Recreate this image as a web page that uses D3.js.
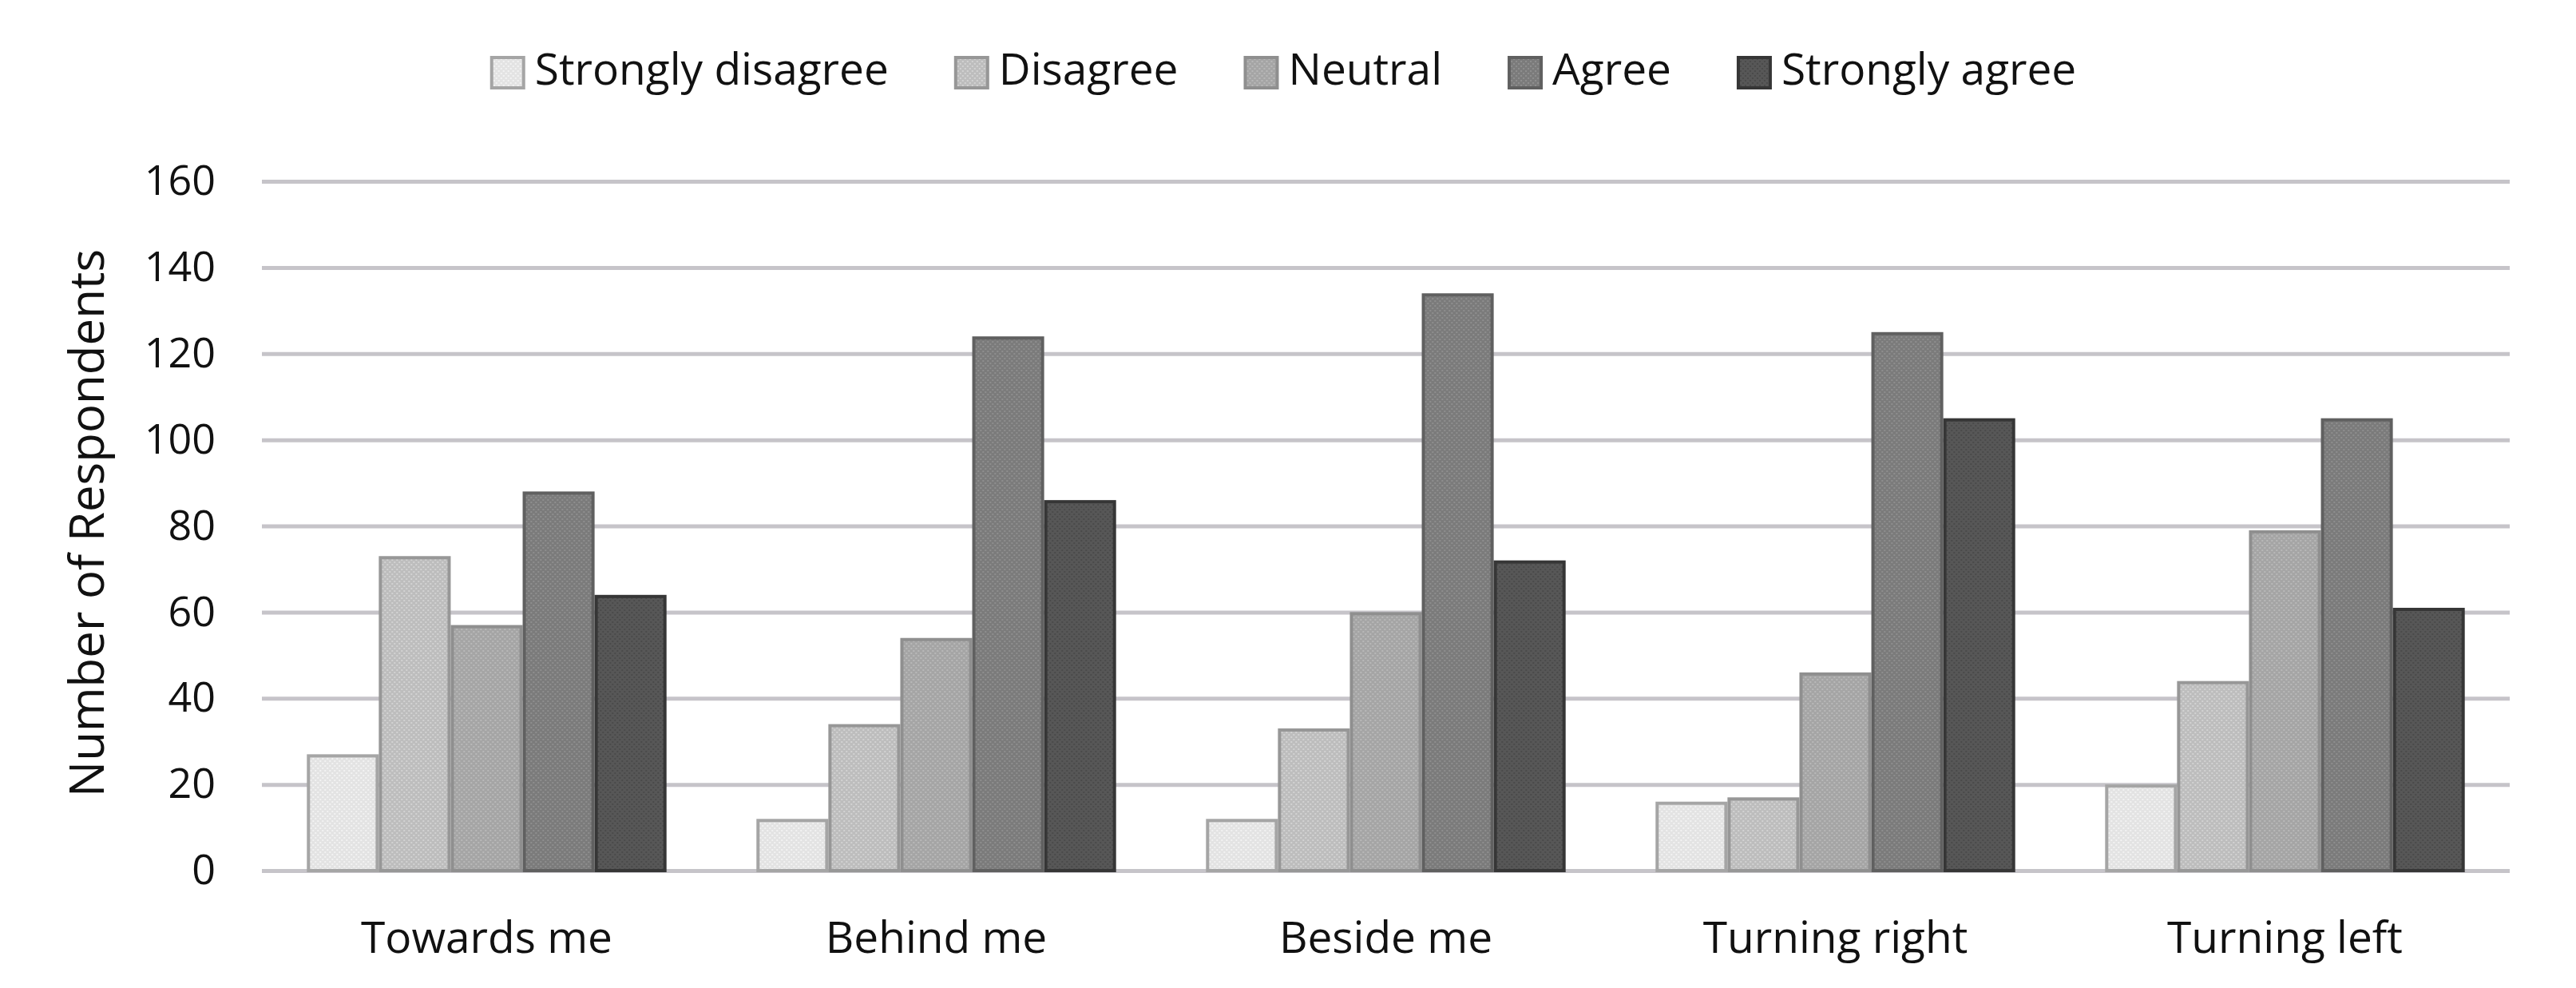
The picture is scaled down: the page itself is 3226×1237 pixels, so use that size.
<!DOCTYPE html>
<html>
<head>
<meta charset="utf-8">
<script src="https://cdn.jsdelivr.net/npm/d3@7"></script>
<style>
  html, body { margin: 0; padding: 0; background: #fff; }
  svg { display: block; }
  text { font-family: "Open Sans", "Noto Sans", sans-serif; fill: #111; }
</style>
</head>
<body>
<svg id="chart" width="3226" height="1237"></svg>
<script>
// ---- data ----
const categories = ["Towards me", "Behind me", "Beside me", "Turning right", "Turning left"];
const seriesNames = ["Strongly disagree", "Disagree", "Neutral", "Agree", "Strongly agree"];
const stronglyDisagree = [27, 12, 12, 16, 20];
const disagree         = [73, 34, 33, 17, 44];
const neutral          = [57, 54, 60, 46, 79];
const agree            = [88, 124, 134, 125, 105];
const stronglyAgree    = [64, 86, 72, 105, 61];
const yTicks = [0, 20, 40, 60, 80, 100, 120, 140, 160];
const yTitle = "Number of Respondents";

const seriesValues = [stronglyDisagree, disagree, neutral, agree, stronglyAgree];
const fills   = ["#e3e3e3", "#bdbdbd", "#a5a5a5", "#7b7b7b", "#575757"];
const dots    = ["#f2f2f2", "#d2d2d2", "#b8b8b8", "#8e8e8e", "#4a4a4a"];
const strokes = ["#a5a5a5", "#979797", "#8f8f8f", "#606060", "#363636"];

// ---- layout ----
const plot = { left: 328, right: 3143, top: 227, bottom: 1090 };

const svg = d3.select("#chart");
const defs = svg.append("defs");
seriesNames.forEach((s, i) => {
  const p = defs.append("pattern")
    .attr("id", "pat" + i).attr("patternUnits", "userSpaceOnUse")
    .attr("width", 6).attr("height", 6);
  p.append("rect").attr("width", 6).attr("height", 6).attr("fill", fills[i]);
  p.append("rect").attr("x", 1).attr("y", 1).attr("width", 2).attr("height", 2).attr("fill", dots[i]);
  p.append("rect").attr("x", 4).attr("y", 4).attr("width", 2).attr("height", 2).attr("fill", dots[i]);
});

const x0 = d3.scaleBand().domain(categories)
  .range([plot.left, plot.right]).paddingInner(0.2).paddingOuter(0.1);
const x1 = d3.scaleBand().domain(seriesNames).range([0, x0.bandwidth()]).padding(0);
const y = d3.scaleLinear().domain([0, 160]).range([plot.bottom, plot.top]);

// gridlines + y tick labels
const yAxis = svg.append("g")
  .attr("transform", `translate(${plot.left},0)`)
  .call(d3.axisLeft(y).tickValues(yTicks).tickSizeInner(-(plot.right - plot.left))
        .tickSizeOuter(0).tickPadding(58));
yAxis.select(".domain").remove();
yAxis.selectAll(".tick line")
  .attr("stroke", "#c6c4c9").attr("stroke-width", 5);
yAxis.selectAll(".tick text")
  .attr("font-size", 52).attr("fill", "#111")
  .style("font-family", "'Open Sans', sans-serif");

// bars
const groups = svg.append("g").selectAll("g")
  .data(categories).join("g")
  .attr("transform", d => `translate(${x0(d)},0)`);

groups.selectAll("rect")
  .data((c, ci) => seriesNames.map((s, si) => ({ s, si, v: seriesValues[si][ci] })))
  .join("rect")
  .attr("x", d => x1(d.s) + 2)
  .attr("width", x1.bandwidth() - 4)
  .attr("y", d => y(d.v) + 2)
  .attr("height", d => Math.max(0, y(0) - y(d.v) - 2))
  .attr("fill", d => `url(#pat${d.si})`)
  .attr("stroke", d => strokes[d.si])
  .attr("stroke-width", 4);

// category axis
const xAxis = svg.append("g")
  .attr("transform", `translate(0,${plot.bottom})`)
  .call(d3.axisBottom(x0).tickSize(0).tickPadding(0));
xAxis.select(".domain").remove();
xAxis.selectAll(".tick text")
  .attr("y", 103).attr("dy", 0)
  .attr("font-size", 55).attr("fill", "#111")
  .style("font-family", "'Open Sans', sans-serif");

// y title
svg.append("text")
  .attr("transform", "translate(130,655) rotate(-90)")
  .attr("text-anchor", "middle")
  .attr("font-size", 60)
  .text(yTitle);

// legend
const legend = svg.append("g");
const items = legend.selectAll("g").data(seriesNames).join("g");
items.append("rect")
  .attr("x", 2).attr("y", 72).attr("width", 40).attr("height", 38)
  .attr("fill", (d, i) => `url(#pat${i})`)
  .attr("stroke", (d, i) => strokes[i]).attr("stroke-width", 4);
items.append("text")
  .attr("x", 56).attr("y", 106)
  .attr("font-size", 55)
  .text(d => d);
let widths = [];
items.each(function () { widths.push(56 + this.querySelector("text").getComputedTextLength()); });
const gap = 82;
const total = d3.sum(widths) + gap * (widths.length - 1);
let cx = 1607 - total / 2;
items.attr("transform", (d, i) => {
  const t = `translate(${cx},0)`;
  cx += widths[i] + gap;
  return t;
});
</script>
</body>
</html>
